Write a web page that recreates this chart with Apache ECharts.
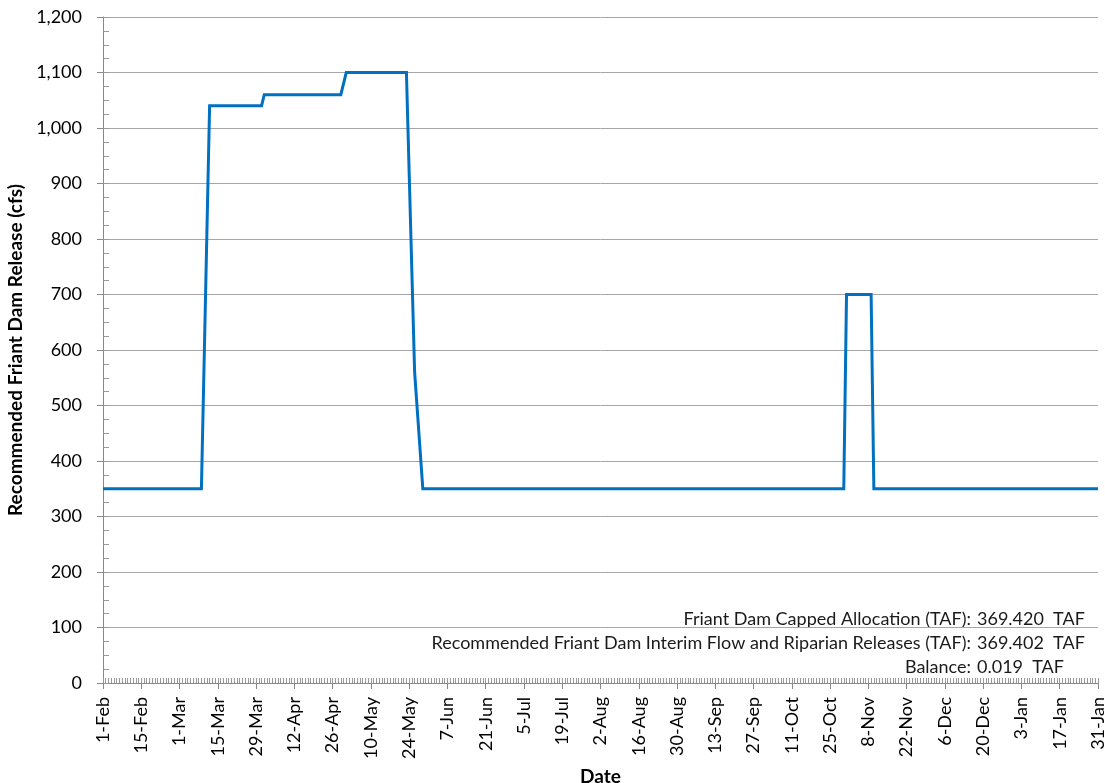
<!DOCTYPE html>
<html>
<head>
<meta charset="utf-8">
<script src="https://cdn.jsdelivr.net/npm/echarts@6/dist/echarts.min.js"></script>
<style>
html,body{margin:0;padding:0;background:#fff;}
#chart{width:1105px;height:783px;}
</style>
</head>
<body>
<div id="chart"></div>
<script>
// Day index from 1-Feb (0) to 31-Jan (364)
const tickLabels = ['1-Feb','15-Feb','1-Mar','15-Mar','29-Mar','12-Apr','26-Apr','10-May','24-May','7-Jun','21-Jun','5-Jul','19-Jul','2-Aug','16-Aug','30-Aug','13-Sep','27-Sep','11-Oct','25-Oct','8-Nov','22-Nov','6-Dec','20-Dec','3-Jan','17-Jan','31-Jan'];
const releaseDays   = [0,   36,  39,   58,   59,   87,   89,   111,  114, 117, 271, 272, 281, 282, 364];
const releaseValues = [350, 350, 1040, 1040, 1060, 1060, 1100, 1100, 560, 350, 350, 700, 700, 350, 350];
const summaryLabels = ['Friant Dam Capped Allocation (TAF):', 'Recommended Friant Dam Interim Flow and Riparian Releases (TAF):', 'Balance:'];
const summaryValues = ['369.420  TAF', '369.402  TAF', '0.019  TAF'];

const FONT = 'Lato, "Open Sans", sans-serif';
const chart = echarts.init(document.getElementById('chart'));
const seriesData = releaseDays.map((d, i) => [d, releaseValues[i]]);

const rowY = [619, 643, 667];
const graphics = [];
summaryLabels.forEach((t, i) => {
  graphics.push({type:'text', x:971, y:rowY[i], style:{text:t, fill:'#1a1a1a', font:'18px ' + FONT, textAlign:'right', textVerticalAlign:'middle'}});
  graphics.push({type:'text', x:977, y:rowY[i], style:{text:summaryValues[i], fill:'#1a1a1a', font:'18px ' + FONT, textAlign:'left', textVerticalAlign:'middle'}});
});

chart.setOption({
  animation:false,
  backgroundColor:'#fff',
  grid:{left:103, right:7, top:17, bottom:100, containLabel:false, outerBoundsMode:'none'},
  xAxis:[{
    type:'value', min:0, max:364, interval:14,
    name:'Date', nameLocation:'middle', nameGap:77,
    nameTextStyle:{fontFamily:FONT, fontWeight:'bold', fontSize:19, color:'#000'},
    axisLine:{show:true, onZero:false, lineStyle:{color:'#888', width:1}},
    axisTick:{show:true, inside:false, length:6, lineStyle:{color:'#888'}},
    axisLabel:{rotate:90, margin:14, fontFamily:FONT, fontSize:18, color:'#000',
      formatter:v => tickLabels[Math.round(v/14)] || ''},
    splitLine:{show:false}
  },{
    type:'value', min:0, max:364, interval:1, position:'bottom',
    axisLine:{show:false},
    axisTick:{show:true, inside:true, length:5, lineStyle:{color:'#999'}},
    axisLabel:{show:false},
    splitLine:{show:false}
  }],
  yAxis:[{
    type:'value', min:0, max:1200, interval:100,
    name:'Recommended Friant Dam Release (cfs)', nameLocation:'middle', nameGap:76,
    nameTextStyle:{fontFamily:FONT, fontWeight:'bold', fontSize:19, color:'#000'},
    axisLine:{show:true, lineStyle:{color:'#888', width:1}},
    axisTick:{show:true, inside:false, length:6, lineStyle:{color:'#888'}},
    axisLabel:{margin:21, fontFamily:FONT, fontSize:18, color:'#000',
      formatter:v => v.toLocaleString('en-US')},
    splitLine:{show:true, lineStyle:{color:'#a6a6a6', width:1}}
  },{
    type:'value', min:0, max:1200, interval:25, position:'left',
    axisLine:{show:false},
    axisTick:{show:true, inside:true, length:6, lineStyle:{color:'#999'}},
    axisLabel:{show:false},
    splitLine:{show:false}
  }],
  series:[{
    type:'line', xAxisIndex:0, yAxisIndex:0,
    data:seriesData, showSymbol:false, symbol:'none',
    lineStyle:{color:'#0070C0', width:3, join:'miter'},
    z:5
  }],
  graphic:graphics
});
</script>
</body>
</html>
